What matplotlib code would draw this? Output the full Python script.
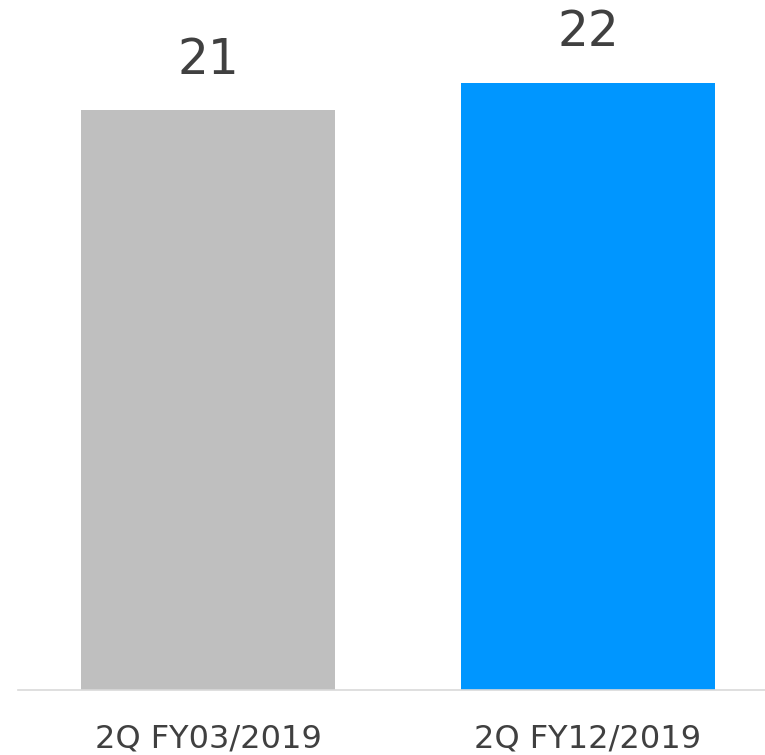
import matplotlib.pyplot as plt

categories = ['2Q FY03/2019', '2Q FY12/2019']
values = [21, 22]
colors = ['#bfbfbf', '#0096ff']

fig = plt.figure(figsize=(7.65, 7.55), dpi=100)
ax = fig.add_axes([0.0235, 0.0861, 0.9765, 0.9139])

x = range(len(categories))
bars = ax.bar(x, values, width=0.668, color=colors)

for b, v in zip(bars, values):
    ax.annotate(f'{v}', (b.get_x() + b.get_width() / 2, v),
                xytext=(0, 19), textcoords='offset points',
                ha='center', va='bottom', fontsize=35, color='#404040')

ax.set_xlim(-0.5, 1.466)
ax.set_ylim(0, 25)
ax.set_xticks(list(x))
ax.set_xticklabels(categories, fontsize=23, color='#404040')
ax.tick_params(axis='x', length=0, pad=24)
ax.set_yticks([])
for s in ['top', 'right', 'left']:
    ax.spines[s].set_visible(False)
ax.spines['bottom'].set_color('#d9d9d9')
ax.spines['bottom'].set_linewidth(1.2)

fig.savefig('out.png', dpi=100)
